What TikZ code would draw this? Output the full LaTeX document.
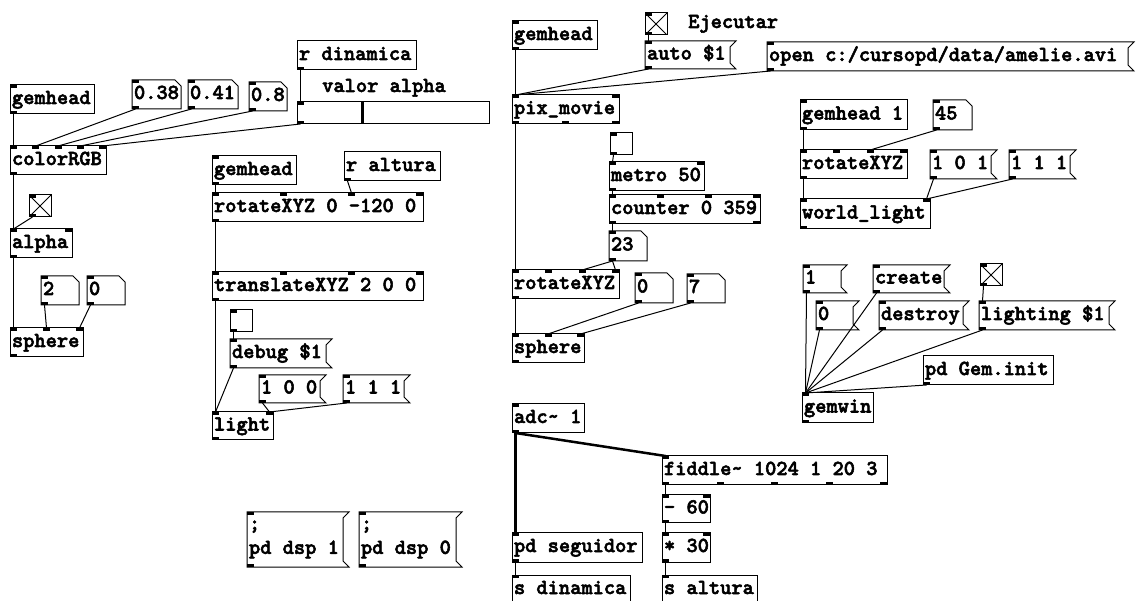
\documentclass[tikz,border=0pt]{standalone}
\usepackage{fontspec}
\usetikzlibrary{calc}
\newfontfamily\pdfam{lmmonolt10-bold.otf}[FakeBold=2.5]
\definecolor{pdline}{HTML}{000000}
\newcommand\pdsp{\nobreak\hskip\fontdimen2\font\relax}
\newcommand\pdfont{\pdfam\fontsize{21.4}{24}\selectfont\spaceskip=\fontdimen2\font\relax
  \exhyphenpenalty=10000 \hyphenpenalty=10000 \let~\pdsp}
\newcommand\pin[2]{($([xshift=3.5pt]#1.north west)!#2!([xshift=-3.5pt]#1.north east)$)}
\newcommand\pout[1]{([xshift=3.5pt]#1.south west)}
\newcommand\pdio[3]{%
  \ifnum#2=1 \fill[pdline] (#1.north west) rectangle ++(7,3);\fi
  \ifnum#2>1 \foreach \k in {1,...,#2}{\fill[pdline] ($(#1.north west)!{(\k-1)/(#2-1)}!([xshift=-7pt]#1.north east)$) rectangle ++(7,3);}\fi
  \ifnum#3=1 \fill[pdline] (#1.south west) rectangle ++(7,-3);\fi
  \ifnum#3>1 \foreach \k in {1,...,#3}{\fill[pdline] ($(#1.south west)!{(\k-1)/(#3-1)}!([xshift=-7pt]#1.south east)$) rectangle ++(7,-3);}\fi}

\begin{document}
\begin{tikzpicture}[x=1pt, y=-1pt,
  pdobj/.style={draw=pdline, line width=1pt, fill=white, anchor=north west, inner xsep=2pt, inner ysep=0pt, outer sep=0pt,
    minimum height=29pt, align=left, text height=13pt, text depth=4pt, font=\pdfont},
  pdmsg/.style={pdobj, draw=none},
  pdnum/.style={pdobj, draw=none},
  pdtgl/.style={draw=pdline, line width=1pt, fill=white, anchor=north west, minimum size=22pt, inner sep=0pt, outer sep=0pt},
  tglon/.style={pdtgl, path picture={\draw[pdline, line width=0.8pt]
    (path picture bounding box.north west) -- (path picture bounding box.south east)
    (path picture bounding box.north east) -- (path picture bounding box.south west);}},
  pdcomment/.style={anchor=base west, inner sep=0pt, font=\pdfont},
  edge/.style={draw=pdline, line width=1pt, line join=miter},
  conn/.style={draw=pdline, line width=1pt},
  sig/.style={draw=pdline, line width=2.5pt}
]
\useasboundingbox[fill=white] (0,0) rectangle (1136,601);

\node[pdobj, text width=80pt] (gh1) at (10,85) {gemhead};
\node[pdnum, text width=45pt] (n038) at (132,80) {0.38};
\node[pdnum, text width=46pt] (n041) at (188,80) {0.41};
\node[pdnum, text width=34pt] (n08) at (249,82) {0.8};
\node[pdobj, text width=115pt] (rdin) at (297,41) {r~dinamica};
\node[pdcomment] (valor) at (322,92) {valor~alpha};
\node[pdobj, minimum width=192pt, minimum height=22pt, text height=, text depth=] (slider) at (297,102) {};
\node[pdobj, text width=92pt] (colorrgb) at (10,146) {colorRGB};
\node[tglon] (tglA) at (29,195) {};
\node[pdobj, text width=58pt] (alpha) at (10,229) {alpha};
\node[pdnum, text width=34pt] (n2) at (41,276) {2};
\node[pdnum, text width=34pt] (n0a) at (87,276) {0};
\node[pdobj, text width=69pt] (sphereA) at (10,328) {sphere};

\node[pdobj, text width=80pt] (gh2) at (212,156) {gemhead};
\node[pdobj, text width=92pt] (ralt) at (344,152) {r~altura};
\node[pdobj, text width=207pt] (rotA) at (212,193) {rotateXYZ~0~-120~0};
\node[pdobj, text width=207pt] (transA) at (212,272) {translateXYZ~2~0~0};
\node[pdtgl] (tglB) at (230,310) {};
\node[pdmsg, text width=92pt] (debug) at (230,339) {debug~\$1};
\node[pdmsg, text width=57pt, minimum height=28pt] (msg100) at (259,375) {1~0~0};
\node[pdmsg, text width=57pt, minimum height=28pt] (msg111a) at (343,375) {1~1~1};
\node[pdobj, text width=57pt, minimum height=28pt] (light) at (212,412) {light};
\node[pdmsg, text width=92pt, minimum height=55pt, text height=, text depth=] (dsp1) at (247,512) {;\\pd~dsp~1};
\node[pdmsg, text width=93pt, minimum height=55pt, text height=, text depth=] (dsp0) at (359,512) {;\\pd~dsp~0};

\node[tglon] (tglC) at (645,13) {};
\node[pdcomment] (ejecutar) at (688,28) {Ejecutar};
\node[pdobj, text width=81pt] (gh3) at (512,21) {gemhead};
\node[pdmsg, text width=81pt, minimum height=28pt] (auto) at (645,41) {auto~\$1};
\node[pdmsg, text width=357pt] (open) at (767,42) {open~c:/cursopd/data/amelie.avi};
\node[pdobj, text width=103pt] (pixmovie) at (512,95) {pix\_movie};
\node[pdtgl] (tglD) at (610,133) {};
\node[pdobj, text width=91pt] (metro) at (609,162) {metro~50};
\node[pdobj, text width=147pt] (counter) at (609,195) {counter~0~359};
\node[pdnum, text width=34pt, minimum height=30pt] (n23) at (609,231) {23};
\node[pdobj, text width=103pt] (rotB) at (512,270) {rotateXYZ};
\node[pdnum, text width=34pt, minimum height=30pt] (n0b) at (635,273) {0};
\node[pdnum, text width=34pt] (n7) at (687,274) {7};
\node[pdobj, text width=68pt] (sphereB) at (512,334) {sphere};

\node[pdobj, text width=103pt, minimum height=30pt] (gh4) at (800,100) {gemhead~1};
\node[pdnum, text width=35pt, minimum height=30pt] (n45) at (933,100) {45};
\node[pdobj, text width=103pt] (rotC) at (800,150) {rotateXYZ};
\node[pdmsg, text width=57pt] (msg101) at (930,150) {1~0~1};
\node[pdmsg, text width=57pt] (msg111b) at (1009,150) {1~1~1};
\node[pdobj, text width=126pt, minimum height=30pt] (worldlight) at (800,199) {world\_light};

\node[pdmsg, text width=34pt, minimum height=28pt] (msg1) at (803,265) {1};
\node[pdmsg, text width=67pt, minimum height=28pt] (create) at (873,265) {create};
\node[tglon] (tglE) at (980,264) {};
\node[pdmsg, text width=33pt] (msg0) at (816,301) {0};
\node[pdmsg, text width=80pt] (destroy) at (879,301) {destroy};
\node[pdmsg, text width=126pt] (lighting) at (979,301) {lighting~\$1};
\node[pdobj, text width=126pt] (geminit) at (923,356) {pd~Gem.init};
\node[pdobj, text width=67pt, minimum height=30pt] (gemwin) at (802,393) {gemwin};

\node[pdobj, text width=68pt] (adc) at (512,404) {adc\textasciitilde~1};
\node[pdobj, text width=221pt] (fiddle) at (662,456) {fiddle\textasciitilde~1024~1~20~3};
\node[pdobj, text width=44pt, minimum height=28pt] (minus) at (662,495) {-~60};
\node[pdobj, text width=44pt] (times) at (662,533) {*~30};
\node[pdobj, text width=126pt] (seguidor) at (512,533) {pd~seguidor};
\node[pdobj, text width=114pt] (sdin) at (512,575) {s~dinamica};
\node[pdobj, text width=91pt] (salt) at (662,575) {s~altura};

\draw[pdline, line width=3pt] ([xshift=65pt]slider.north west) -- ([xshift=65pt]slider.south west);

\foreach \m in {debug,msg100,msg111a,dsp1,dsp0,auto,open,msg101,msg111b,msg1,create,msg0,destroy,lighting}
  \draw[edge] (\m.north west) -- ([xshift=6pt]\m.north east) -- ([yshift=-6pt]\m.north east)
    -- ([yshift=6pt]\m.south east) -- ([xshift=6pt]\m.south east) -- (\m.south west) -- cycle;
\foreach \m in {n038,n041,n08,n2,n0a,n23,n0b,n7,n45}
  \draw[edge] (\m.north west) -- ([xshift=-6pt]\m.north east) -- ([yshift=-6pt]\m.north east)
    -- (\m.south east) -- (\m.south west) -- cycle;

\foreach \n/\i/\o in {gh1/1/1, n038/1/1, n041/1/1, n08/1/1, rdin/0/1, slider/1/1, colorrgb/5/1, tglA/1/1,
    alpha/2/1, n2/1/1, n0a/1/1, sphereA/3/1, gh2/1/1, ralt/0/1, rotA/4/1, transA/4/1, tglB/1/1,
    debug/1/1, msg100/1/1, msg111a/1/1, light/2/1, dsp1/1/1, dsp0/1/1, tglC/1/1, gh3/1/1, auto/1/1,
    open/1/1, pixmovie/2/3, tglD/1/1, metro/2/1, counter/4/2, n23/1/1, rotB/4/1, n0b/1/1, n7/1/1,
    sphereB/3/1, gh4/1/1, n45/1/1, rotC/4/1, msg101/1/1, msg111b/1/1, worldlight/2/1, msg1/1/1,
    create/1/1, tglE/1/1, msg0/1/1, destroy/1/1, lighting/1/1, geminit/0/1, gemwin/1/1, adc/1/1,
    fiddle/1/5, minus/2/1, times/2/1, seguidor/1/1, sdin/1/0, salt/1/0}
  \pdio{\n}{\i}{\o};

\draw[conn] \pout{gh1} -- \pin{colorrgb}{0};
\draw[conn] \pout{n038} -- \pin{colorrgb}{0.25};
\draw[conn] \pout{n041} -- \pin{colorrgb}{0.5};
\draw[conn] \pout{n08} -- \pin{colorrgb}{0.75};
\draw[conn] \pout{slider} -- \pin{colorrgb}{1};
\draw[conn] \pout{rdin} -- \pin{slider}{0};
\draw[conn] \pout{colorrgb} -- \pin{alpha}{0};
\draw[conn] \pout{tglA} -- \pin{alpha}{0};
\draw[conn] \pout{alpha} -- \pin{sphereA}{0};
\draw[conn] \pout{n2} -- \pin{sphereA}{0.5};
\draw[conn] \pout{n0a} -- \pin{sphereA}{1};

\draw[conn] \pout{gh2} -- \pin{rotA}{0};
\draw[conn] \pout{ralt} -- \pin{rotA}{0.6667};
\draw[conn] \pout{rotA} -- \pin{transA}{0};
\draw[conn] \pout{transA} -- \pin{light}{0};
\draw[conn] \pout{tglB} -- \pin{debug}{0};
\draw[conn] \pout{debug} -- \pin{light}{0};
\draw[conn] \pout{msg100} -- \pin{light}{1};
\draw[conn] \pout{msg111a} -- \pin{light}{1};

\draw[conn] \pout{tglC} -- \pin{auto}{0};
\draw[conn] \pout{auto} -- \pin{pixmovie}{0};
\draw[conn] \pout{open} -- \pin{pixmovie}{0};
\draw[conn] \pout{gh3} -- \pin{pixmovie}{0};
\draw[conn] \pout{pixmovie} -- \pin{rotB}{0};
\draw[conn] \pout{tglD} -- \pin{metro}{0};
\draw[conn] \pout{metro} -- \pin{counter}{0};
\draw[conn] \pout{counter} -- \pin{n23}{0};
\draw[conn] \pout{n23} -- \pin{rotB}{0.6667};
\draw[conn] \pout{n23} -- \pin{rotB}{1};
\draw[conn] \pout{rotB} -- \pin{sphereB}{0};
\draw[conn] \pout{n0b} -- \pin{sphereB}{0.5};
\draw[conn] \pout{n7} -- \pin{sphereB}{1};

\draw[conn] \pout{gh4} -- \pin{rotC}{0};
\draw[conn] \pout{n45} -- \pin{rotC}{0.6667};
\draw[conn] \pout{rotC} -- \pin{worldlight}{0};
\draw[conn] \pout{msg101} -- \pin{worldlight}{1};
\draw[conn] \pout{msg111b} -- \pin{worldlight}{1};

\draw[conn] \pout{tglE} -- \pin{lighting}{0};
\foreach \m in {msg1,msg0,create,destroy,lighting,geminit}
  \draw[conn] \pout{\m} -- \pin{gemwin}{0};

\draw[sig] \pout{adc} -- \pin{seguidor}{0};
\draw[sig] \pout{adc} -- \pin{fiddle}{0};
\draw[conn] \pout{fiddle} -- \pin{minus}{0};
\draw[conn] \pout{minus} -- \pin{times}{0};
\draw[conn] \pout{times} -- \pin{salt}{0};
\draw[conn] \pout{seguidor} -- \pin{sdin}{0};
\end{tikzpicture}
\end{document}
